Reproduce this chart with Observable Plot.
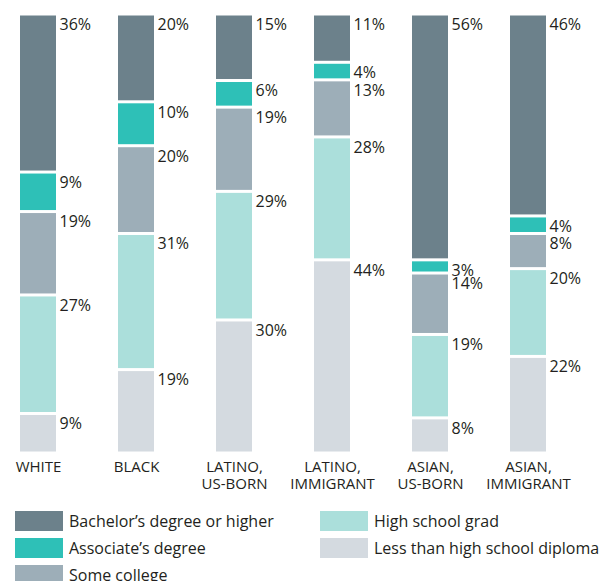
<!DOCTYPE html>
<html><head><meta charset="utf-8">
<script src="https://cdn.jsdelivr.net/npm/d3@7"></script>
<script src="https://cdn.jsdelivr.net/npm/@observablehq/plot@0.6"></script>
<style>
body{margin:0;background:#fff;font-family:"Open Sans",sans-serif;color:#231f20}
#legend{display:grid;grid-auto-flow:column;grid-template-rows:repeat(3,27px);grid-template-columns:305px 282px;padding:7px 0 0 15px}
.item{display:flex;align-items:center;font-size:16px;line-height:20px;white-space:nowrap}
.sw{width:48px;height:20px;margin-right:6px;flex:none}
</style></head>
<body>
<div id="chart"></div>
<div id="legend"></div>
<script>
const groups = ["WHITE","BLACK","LATINO,\nUS-BORN","LATINO,\nIMMIGRANT","ASIAN,\nUS-BORN","ASIAN,\nIMMIGRANT"];
const levels = ["Less than high school diploma","High school grad","Some college","Associate’s degree","Bachelor’s degree or higher"];
const colors = ["#d4dae0","#abdfdb","#9daeb8","#2ec0b7","#6c818b"];
const lessHS = [9,19,30,44,8,22];
const hsGrad = [27,31,29,28,19,20];
const someCollege = [19,20,19,13,14,8];
const associate = [9,10,6,4,3,4];
const bachelor = [36,20,15,11,56,46];
const legendOrder = ["Bachelor’s degree or higher","Associate’s degree","Some college","High school grad","Less than high school diploma"];

const series = [lessHS, hsGrad, someCollege, associate, bachelor];
const data = [];
levels.forEach((lv,i)=>groups.forEach((g,j)=>data.push({group:g, level:lv, value:series[i][j]})));

const chart = Plot.plot({
  width:602, height:500,
  marginTop:14, marginBottom:47, marginLeft:20, marginRight:53,
  x:{domain:groups, paddingInner:0.635, paddingOuter:0, align:0, label:null},
  y:{domain:[0,1], axis:null},
  color:{domain:levels, range:colors},
  style:{fontFamily:"'Open Sans', sans-serif", color:"#231f20", background:"#fff"},
  marks:[
    Plot.barY(data, Plot.stackY({offset:"normalize"}, {x:"group", y:"value", fill:"level", insetTop:1.5, insetBottom:1.5})),
    Plot.text(data, Plot.stackY2({offset:"normalize"}, {x:"group", y:"value", z:"level", text:d=>d.value+"%", textAnchor:"start", lineAnchor:"top", dx:21, dy:4, fontSize:16, fill:"#231f20"})),
    Plot.axisX({tickSize:0, tickPadding:7, fontSize:15, lineHeight:1.1, label:null})
  ]
});
document.getElementById("chart").append(chart);

const lg = document.getElementById("legend");
legendOrder.forEach(l=>{
  const it = document.createElement("div"); it.className="item";
  const sw = document.createElement("span"); sw.className="sw"; sw.style.background = colors[levels.indexOf(l)];
  it.append(sw, document.createTextNode(l));
  lg.append(it);
});
</script>
</body></html>
